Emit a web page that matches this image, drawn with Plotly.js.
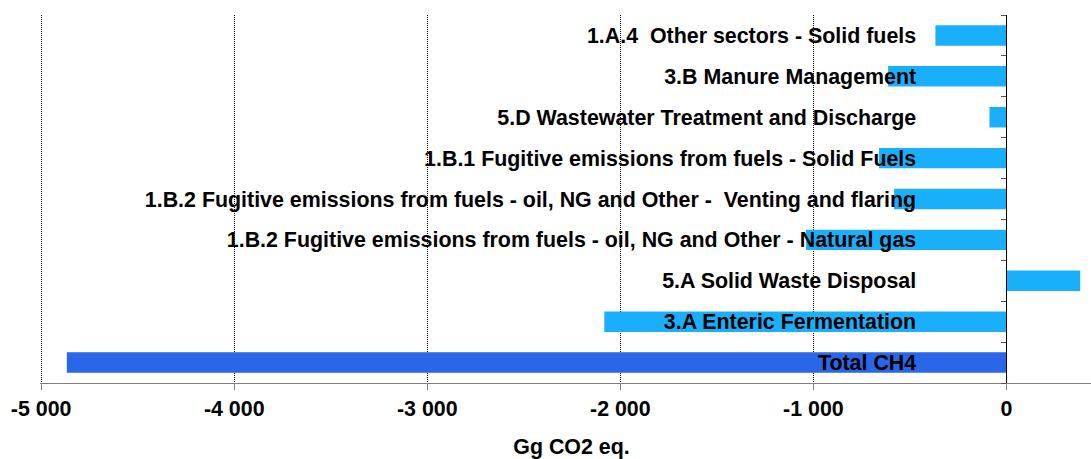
<!DOCTYPE html>
<html>
<head>
<meta charset="utf-8">
<script src="https://cdn.plot.ly/plotly-3.0.1.min.js"></script>
<style>
html, body { margin: 0; padding: 0; overflow: hidden; background: #fff; }
#chart { width: 1103px; height: 459px; }
</style>
</head>
<body>
<div id="chart"></div>
<script>
// Categories listed bottom to top
const categories = [
  "Total CH4",
  "3.A Enteric Fermentation",
  "5.A Solid Waste Disposal",
  "1.B.2 Fugitive emissions from fuels - oil, NG and Other - Natural gas",
  "1.B.2 Fugitive emissions from fuels - oil, NG and Other -\u00a0 Venting and flaring",
  "1.B.1 Fugitive emissions from fuels - Solid Fuels",
  "5.D Wastewater Treatment and Discharge",
  "3.B Manure Management",
  "1.A.4\u00a0 Other sectors - Solid fuels"
];
const values = [-4867, -2083, 382, -1038, -582, -660, -88, -613, -368];
const barColors = ["#2966E8", "#1AAFFB", "#1AAFFB", "#1AAFFB", "#1AAFFB", "#1AAFFB", "#1AAFFB", "#1AAFFB", "#1AAFFB"];
const xTickVals = [-5000, -4000, -3000, -2000, -1000, 0];
const xTickText = ["-5 000", "-4 000", "-3 000", "-2 000", "-1 000", "0"];
const xTitle = "Gg CO2 eq.";

const fam = "Liberation Sans, Arial, sans-serif";
const boldFont = {family: fam, size: 21.4, color: "#000", weight: "bold"};

const trace = {
  type: "bar",
  orientation: "h",
  y: categories,
  x: values,
  marker: {color: barColors, line: {width: 0}},
  hoverinfo: "none"
};

const layout = {
  width: 1103,
  height: 459,
  margin: {l: 40, r: 0, t: 15, b: 76},
  paper_bgcolor: "#fff",
  plot_bgcolor: "#fff",
  showlegend: false,
  bargap: 0.5,
  font: {family: fam, size: 21.4, color: "#000"},
  xaxis: {
    range: [-5006, 500],
    tickvals: xTickVals,
    ticktext: xTickText,
    ticks: "outside",
    ticklen: 6,
    tickcolor: "#808080",
    showline: true,
    linecolor: "#808080",
    linewidth: 1,
    showgrid: true,
    gridcolor: "#000",
    gridwidth: 1,
    griddash: "1px,1px",
    zeroline: false,
    tickfont: boldFont,
    title: {text: xTitle, font: boldFont, standoff: 21}
  },
  yaxis: {
    type: "category",
    anchor: "free",
    position: 5006 / 5506,
    showline: true,
    linecolor: "#000",
    linewidth: 1,
    ticks: "outside",
    tickson: "boundaries",
    ticklen: 5,
    tickcolor: "#555",
    ticklabelstandoff: 86,
    showgrid: false,
    zeroline: false,
    tickfont: boldFont
  }
};

Plotly.newPlot("chart", [trace], layout, {displayModeBar: false, staticPlot: true});
</script>
</body>
</html>
